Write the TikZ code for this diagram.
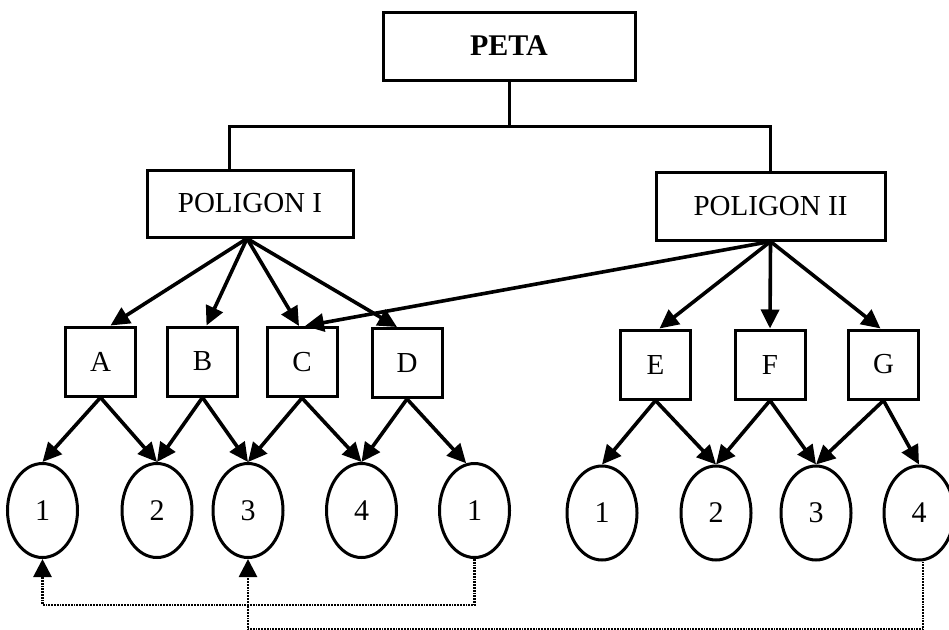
\documentclass[tikz,border=0pt]{standalone}
\usepackage{fontspec}
\setmainfont{Liberation Serif}
\usetikzlibrary{arrows.meta,shapes.geometric}
\begin{document}
\begin{tikzpicture}[x=1pt,y=-1pt,
  box/.style={draw,line width=3pt,inner sep=0pt,font=\fontsize{29}{34}\selectfont},
  leaf/.style={box,minimum width=70pt,minimum height=69pt},
  oval/.style={draw,ellipse,line width=3pt,inner sep=0pt,minimum width=70pt,minimum height=94pt,font=\fontsize{30}{36}\selectfont},
  link/.style={line width=3pt},
  arr/.style={line width=3.6pt,-{Triangle[length=19pt,width=18pt]}},
  back/.style={line width=2.8pt,dash pattern=on 1.8pt off 1pt,-{Triangle[length=18pt,width=18pt,sep=0pt]}}]
\useasboundingbox (0,0) rectangle (949,629);

% top level and the two polygons
\node[box,minimum width=252pt,minimum height=68pt,font=\bfseries\fontsize{30}{36}\selectfont] (peta) at (509,46) {PETA};
\node[box,minimum width=206pt,minimum height=67pt] (p1) at (250,203.5) {POLIGON I};
\node[box,minimum width=229pt,minimum height=68pt] (p2) at (770.5,206) {POLIGON II};

\coordinate (hl) at (229,126);
\coordinate (hr) at (770,126);
\draw[link] (peta.south) -- (peta.south |- hl);
\draw[link] (p1.north -| hl) -- (hl) -- (hr) -- (p2.north -| hr);

% letter boxes
\node[leaf] (a) at (100.5,361.5) {A};
\node[leaf] (b) at (202.5,361.5) {B};
\node[leaf] (c) at (302,362) {C};
\node[leaf] (d) at (407,363) {D};
\node[leaf] (e) at (655.5,364.5) {E};
\node[leaf] (f) at (770,364.5) {F};
\node[leaf] (g) at (883.5,364.5) {G};

% numbered ovals
\node[oval] (n1) at (42.5,510.5) {1};
\node[oval] (n2) at (157,510.5) {2};
\node[oval] (n3) at (248,510.5) {3};
\node[oval] (n4) at (361.5,510.5) {4};
\node[oval] (n5) at (474.5,510.5) {1};
\node[oval] (m1) at (602,513) {1};
\node[oval] (m2) at (716,513) {2};
\node[oval] (m3) at (816,513) {3};
\node[oval] (m4) at (919,513) {4};

% polygon to letter arrows
\draw[arr] ([xshift=-3pt]p1.south) -- ([xshift=10pt]a.north);
\draw[arr] ([xshift=-3pt]p1.south) -- ([xshift=4pt]b.north);
\draw[arr] ([xshift=-3pt]p1.south) -- ([xshift=-3pt]c.north);
\draw[arr] ([xshift=-3pt]p1.south) -- ([xshift=-10pt]d.north);
\draw[arr] (p2.south) -- ([xshift=3pt]c.north);
\draw[arr] (p2.south) -- ([xshift=4pt]e.north);
\draw[arr] (p2.south) -- (f.north);
\draw[arr] (p2.south) -- ([xshift=-3pt]g.north);

% letter to number arrows
\draw[arr] (a.south) -- (n1.north);
\draw[arr] (a.south) -- (n2.north);
\draw[arr] (b.south) -- (n2.north);
\draw[arr] (b.south) -- (n3.north);
\draw[arr] (c.south) -- (n3.north);
\draw[arr] (c.south) -- (n4.north);
\draw[arr] (d.south) -- (n4.north);
\draw[arr] (d.south) -- (n5.100);
\draw[arr] (e.south) -- (m1.north);
\draw[arr] (e.south) -- (m2.north);
\draw[arr] (f.south) -- (m2.north);
\draw[arr] (f.south) -- (m3.north);
\draw[arr] (g.south) -- (m3.north);
\draw[arr] (g.south) -- (m4.north);

% dotted return links
\draw[back] (n5.south) -- ++(0,46) -| (n1.south);
\draw[back] ([xshift=4pt]m4.south) -- ++(0,68) -| (n3.south);
\end{tikzpicture}
\end{document}
